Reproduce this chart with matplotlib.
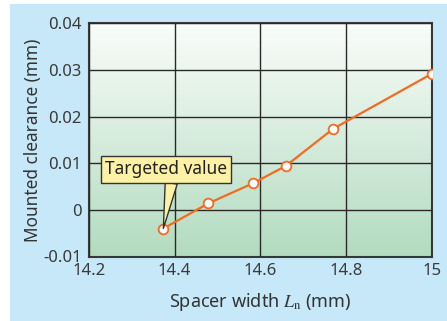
import numpy as np
import matplotlib
matplotlib.use("Agg")
import matplotlib.pyplot as plt
from matplotlib.patches import Rectangle

plt.rcParams['font.family'] = ['Noto Sans', 'DejaVu Sans']
plt.rcParams['mathtext.fontset'] = 'stix'

spacer_width = [14.374, 14.479, 14.583, 14.659, 14.770, 15.0]
clearance = [-0.0040, 0.0014, 0.0057, 0.0094, 0.0174, 0.0292]
x_ticks = [14.2, 14.4, 14.6, 14.8, 15.0]
x_tick_labels = ["14.2", "14.4", "14.6", "14.8", "15"]
y_ticks = [-0.01, 0, 0.01, 0.02, 0.03, 0.04]
y_tick_labels = ["-0.01", "0", "0.01", "0.02", "0.03", "0.04"]
annotation_text = "Targeted value"

fig = plt.figure(figsize=(4.47, 3.21), dpi=100)
fig.patch.set_facecolor('white')
bg = Rectangle((10/447, 0), 1 - 10/447, 1 - 4/321,
               transform=fig.transFigure, facecolor='#c6e8f8',
               edgecolor='none', zorder=-10)
fig.add_artist(bg)

ax = fig.add_axes([88.7/447, 1 - 256.5/321, (432 - 88.7)/447, (256.5 - 23.3)/321])
ax.set_zorder(1)

# gradient background
top = np.array([0.98, 0.99, 0.98])
bot = np.array([0.70, 0.86, 0.75])
t = np.linspace(0, 1, 256)[:, None]
grad = (top * (1 - t) + bot * t)[:, None, :]
ax.imshow(grad, extent=[0, 1, 0, 1], transform=ax.transAxes, aspect='auto', zorder=0)
ax.set_xlim(14.2, 15.0)
ax.set_ylim(-0.01, 0.04)

ax.set_xticks(x_ticks)
ax.set_xticklabels(x_tick_labels)
ax.set_yticks(y_ticks)
ax.set_yticklabels(y_tick_labels)
ax.grid(True, color='#2a2a2a', linewidth=1.0, zorder=1)
ax.set_axisbelow(False)
for s in ax.spines.values():
    s.set_color('#3a3a3a')
    s.set_linewidth(1.5)
ax.tick_params(axis='both', labelsize=12, colors='#3a3a3a', length=0)
ax.tick_params(axis='x', pad=5)
ax.tick_params(axis='y', pad=5)

ax.plot(spacer_width, clearance, color='#f26b21', linewidth=1.6, marker='o',
        markersize=7, markerfacecolor='white', markeredgecolor='#f26b21',
        markeredgewidth=1.3, zorder=3)

ax.set_xlabel(r"Spacer width $\mathit{L}_{\mathrm{n}}$ (mm)", fontsize=13, color='#333333', labelpad=8)
ax.set_ylabel("Mounted clearance (mm)", fontsize=12.4, color='#333333', labelpad=1)

ax.annotate(annotation_text, xy=(spacer_width[0], clearance[0]),
            xytext=(14.38, 0.0087), textcoords='data',
            fontsize=12.5, color='#222222', ha='center', va='center',
            bbox=dict(boxstyle='square,pad=0.25', fc='#fdf1a6', ec='#333333', lw=1.0),
            arrowprops=dict(arrowstyle='wedge,tail_width=0.7,shrink_factor=0.5',
                            fc='#fdf1a6', ec='#333333', lw=1.0,
                            shrinkA=0, shrinkB=0, relpos=(0.55, 0.0)),
            zorder=4)

fig.savefig("out.png", dpi=100)
